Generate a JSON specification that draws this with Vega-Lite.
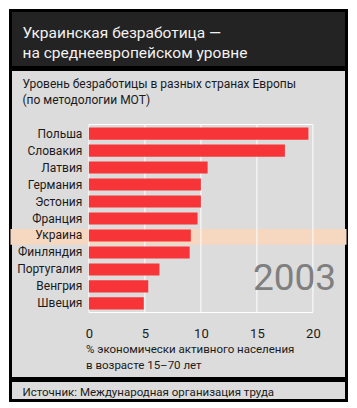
{
  "$schema": "https://vega.github.io/schema/vega-lite/v6.json",
  "background": "white",
  "padding": {"left": 8.5, "top": 8.5, "right": 0, "bottom": 0},
  "spacing": -3,
  "config": {
    "font": "Roboto, sans-serif"
  },
  "vconcat": [
    {
      "width": 336,
      "height": 57,
      "view": {"fill": "#232323", "stroke": "black", "strokeWidth": 3},
      "data": {"values": [
        {"line": "Украинская безработица —"},
        {"line": "на среднеевропейском уровне"}
      ]},
      "mark": {"type": "text", "align": "left", "baseline": "alphabetic", "dx": 12, "dy": 9, "fontSize": 15.5, "color": "#f2f2f2"},
      "encoding": {
        "x": {"datum": 0, "type": "quantitative", "scale": {"domain": [0, 1]}, "axis": null},
        "y": {"field": "line", "type": "nominal", "sort": null, "axis": null, "scale": {"type": "band", "paddingInner": 0, "paddingOuter": 0.425}},
        "text": {"field": "line"}
      }
    },
    {
      "width": 336,
      "height": 309,
      "view": {"fill": "#dcdcdc", "stroke": "black", "strokeWidth": 3},
      "title": {
        "text": ["Уровень безработицы в разных странах Европы", "(по методологии МОТ)"],
        "anchor": "start",
        "frame": "group",
        "offset": -37,
        "dx": 12,
        "fontSize": 12,
        "lineHeight": 16,
        "fontWeight": "normal",
        "color": "#1a1a1a"
      },
      "data": {"values": [
        {"country": "Польша", "rate": 19.6},
        {"country": "Словакия", "rate": 17.5},
        {"country": "Латвия", "rate": 10.6},
        {"country": "Германия", "rate": 10.0},
        {"country": "Эстония", "rate": 10.0},
        {"country": "Франция", "rate": 9.7},
        {"country": "Украина", "rate": 9.1},
        {"country": "Финляндия", "rate": 9.0},
        {"country": "Португалия", "rate": 6.3},
        {"country": "Венгрия", "rate": 5.3},
        {"country": "Швеция", "rate": 4.9}
      ]},
      "layer": [
        {
          "data": {"values": [{"country": "Украина"}]},
          "mark": {"type": "rect", "color": "#f6d7c0"},
          "encoding": {
            "x": {"datum": -7},
            "x2": {"datum": 23},
            "y": {"field": "country", "type": "nominal", "bandPosition": -0.03},
            "y2": {"field": "country", "bandPosition": 1.25}
          }
        },
        {
          "data": {"values": [{"tick": 5}, {"tick": 10}, {"tick": 15}]},
          "mark": {"type": "rule", "color": "white", "strokeWidth": 1},
          "encoding": {
            "x": {"field": "tick", "type": "quantitative"},
            "y": {"datum": "Польша", "bandPosition": -0.237},
            "y2": {"datum": "Швеция", "bandPosition": 1.234}
          }
        },
        {
          "data": {"values": [{"from": 0, "to": 20}]},
          "mark": {"type": "rect", "fill": null, "fillOpacity": 0, "stroke": "white", "strokeWidth": 1},
          "encoding": {
            "x": {"field": "from", "type": "quantitative"},
            "x2": {"field": "to"},
            "y": {"datum": "Польша", "bandPosition": -0.237},
            "y2": {"datum": "Швеция", "bandPosition": 1.234}
          }
        },
        {
          "mark": {"type": "bar", "color": "#f73437"},
          "encoding": {
            "x": {
              "field": "rate",
              "type": "quantitative",
              "scale": {"domain": [-7, 23], "nice": false, "zero": false},
              "axis": {
                "values": [0, 5, 10, 15, 20],
                "grid": false,
                "domain": false,
                "ticks": false,
                "tickSize": 0,
                "offset": -66,
                "labelPadding": 15,
                "labelFlush": false,
                "labelFontSize": 13,
                "labelColor": "#1a1a1a",
                "zindex": 1,
                "title": ["% экономически активного населения", "в возрасте 15–70 лет"],
                "titleX": 75,
                "titleY": 40,
                "titleAlign": "left",
                "titleAnchor": null,
                "titleBaseline": "alphabetic",
                "titleFontWeight": "normal",
                "titleFontSize": 11.5,
                "titleLineHeight": 15.5,
                "titleColor": "#1a1a1a"
              }
            },
            "y": {
              "field": "country",
              "type": "nominal",
              "sort": null,
              "scale": {
                "domain": ["Польша", "Словакия", "Латвия", "Германия", "Эстония", "Франция", "Украина", "Финляндия", "Португалия", "Венгрия", "Швеция"],
                "range": [55, 243],
                "paddingInner": 0.28,
                "paddingOuter": 0.17
              },
              "axis": {
                "orient": "left",
                "offset": -78.4,
                "domain": false,
                "ticks": false,
                "tickSize": 0,
                "labelPadding": 7,
                "labelFontSize": 12,
                "labelColor": "#1a1a1a",
                "labelLimit": 0,
                "title": null,
                "zindex": 1
              }
            }
          }
        },
        {
          "data": {"values": [{"year": "2003"}]},
          "mark": {"type": "text", "align": "center", "baseline": "alphabetic", "dy": 21, "fontSize": 37, "color": "#7f7f7f"},
          "encoding": {
            "x": {"datum": 18.36},
            "y": {"datum": "Португалия"},
            "text": {"field": "year"}
          }
        }
      ]
    },
    {
      "width": 336,
      "height": 20,
      "view": {"fill": "#dcdcdc", "stroke": "black", "strokeWidth": 3},
      "data": {"values": [{"source": "Источник: Международная организация труда"}]},
      "mark": {"type": "text", "align": "left", "baseline": "alphabetic", "dx": 12, "dy": 5, "fontSize": 11.5, "color": "#1a1a1a"},
      "encoding": {
        "x": {"datum": 0, "type": "quantitative", "scale": {"domain": [0, 1]}, "axis": null},
        "text": {"field": "source"}
      }
    }
  ]
}
